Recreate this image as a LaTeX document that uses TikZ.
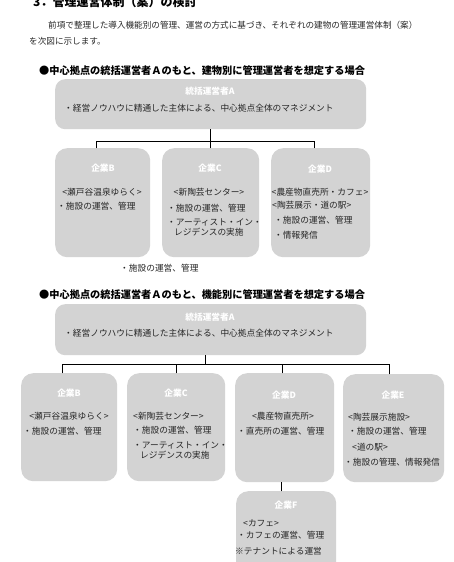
\documentclass[tikz,border=0pt]{standalone}
\usepackage{fontspec}
\setmainfont{Noto Sans CJK JP}
\usetikzlibrary{calc}
\definecolor{cbox}{HTML}{D3D3D3}
\definecolor{ctext}{HTML}{262626}
\tikzset{
  box/.style={fill=cbox, rounded corners=12pt, inner sep=0pt, anchor=north west},
  boxtitle/.style={font=\bfseries\fontsize{8.7}{10}\selectfont, text=white, inner sep=0pt},
  ln/.style={font=\fontsize{8.7}{10}\selectfont, text=ctext, inner sep=0pt, anchor=west},
  lnc/.style={ln, anchor=center},
  hdg/.style={font=\bfseries\fontsize{10.2}{12}\selectfont, inner sep=0pt, anchor=west},
  link/.style={black, line width=0.8pt},
}

\begin{document}
\begin{tikzpicture}[x=1pt, y=-1pt, line cap=rect]
  \useasboundingbox (0,0) rectangle (453,562);
  \clip (0,0) rectangle (453,562);
  % ---------- page head ----------
  \node[font=\bfseries\fontsize{12}{14}\selectfont, inner sep=0pt, anchor=base west] (ttl) at (33,6) {3．管理運営体制（案）の検討};
  \node[ln, font=\fontsize{8.6}{10}\selectfont] (par1) at (48,25) {前項で整理した導入機能別の管理、運営の方式に基づき、それぞれの建物の管理運営体制（案）};
  \node[ln, font=\fontsize{8.6}{10}\selectfont] (par2) at (29,41) {を次図に示します。};

  % ---------- (1) by building ----------
  \node[hdg] (hd1) at (39,71) {●中心拠点の統括運営者Ａのもと、建物別に管理運営者を想定する場合};
  \node[box, minimum width=311pt, minimum height=50pt, rounded corners=10pt] (a1) at (55,79) {};
  \node[boxtitle] (a1t) at (210,91) {統括運営者A};
  \node[ln] (a1l) at (64,108) {・経営ノウハウに精通した主体による、中心拠点全体のマネジメント};

  \node[box, minimum width=95pt, minimum height=109pt] (b1) at (55,148) {};
  \node[boxtitle] (b1t) at (103,168) {企業B};
  \node[lnc] (b1l1) at (102,192) {<瀬戸谷温泉ゆらく>};
  \node[ln] (b1l2) at (57,206) {・施設の運営、管理};

  \node[box, minimum width=97pt, minimum height=109pt] (c1) at (162,148) {};
  \node[boxtitle] (c1t) at (210,168) {企業C};
  \node[lnc] (c1l1) at (209,192) {<新陶芸センター>};
  \node[ln] (c1l2) at (167,208) {・施設の運営、管理};
  \node[ln] (c1l3) at (167,222) {・アーティスト・イン・};
  \node[ln] (c1l4) at (174,232) {レジデンスの実施};

  \node[box, minimum width=99pt, minimum height=109pt] (d1) at (271,148) {};
  \node[boxtitle] (d1t) at (320,169) {企業D};
  \node[lnc] (d1l1) at (320,192) {<農産物直売所・カフェ>};
  \node[ln] (d1l2) at (272,205) {<陶芸展示・道の駅>};
  \node[ln] (d1l3) at (274,220) {・施設の運営、管理};
  \node[ln] (d1l4) at (274,235) {・情報発信};

  \node[ln] (fl) at (120,268) {・施設の運営、管理};

  \draw[link] (a1.south) -- (c1.north);
  \draw[link] ([xshift=-6.5pt]b1.north) -- ++(0,-7) -| ([xshift=-6.5pt]d1.north);

  % ---------- (2) by function ----------
  \node[hdg] (hd2) at (39,295) {●中心拠点の統括運営者Ａのもと、機能別に管理運営者を想定する場合};
  \node[box, minimum width=311pt, minimum height=51pt, rounded corners=10pt] (a2) at (55,304) {};
  \node[boxtitle] (a2t) at (210,317) {統括運営者A};
  \node[ln] (a2l) at (64,333) {・経営ノウハウに精通した主体による、中心拠点全体のマネジメント};

  \node[box, minimum width=96pt, minimum height=108pt] (b2) at (21,373) {};
  \node[boxtitle] (b2t) at (69,393) {企業B};
  \node[lnc] (b2l1) at (69,416) {<瀬戸谷温泉ゆらく>};
  \node[ln] (b2l2) at (23,431) {・施設の運営、管理};

  \node[box, minimum width=98pt, minimum height=108pt] (c2) at (127,373) {};
  \node[boxtitle] (c2t) at (176,393) {企業C};
  \node[ln] (c2l1) at (133,416) {<新陶芸センター>};
  \node[ln] (c2l2) at (133,430) {・施設の運営、管理};
  \node[ln] (c2l3) at (133,445) {・アーティスト・イン・};
  \node[ln] (c2l4) at (140,455) {レジデンスの実施};

  \node[box, minimum width=99pt, minimum height=109pt] (d2) at (235,373) {};
  \node[boxtitle] (d2t) at (284,395) {企業D};
  \node[lnc] (d2l1) at (283,416) {<農産物直売所>};
  \node[ln] (d2l2) at (237,431) {・直売所の運営、管理};

  \node[box, minimum width=101pt, minimum height=108pt] (e2) at (343,374) {};
  \node[boxtitle] (e2t) at (393,395) {企業E};
  \node[ln] (e2l1) at (348,417) {<陶芸展示施設>};
  \node[ln] (e2l2) at (348,431) {・施設の運営、管理};
  \node[ln] (e2l3) at (352,447) {<道の駅>};
  \node[ln] (e2l4) at (344,462) {・施設の管理、情報発信};

  \node[box, minimum width=100pt, minimum height=90pt] (f2) at (236,491) {};
  \node[boxtitle] (f2t) at (286,505) {企業F};
  \node[ln] (f2l1) at (243,523) {<カフェ>};
  \node[ln] (f2l2) at (237,535) {・カフェの運営、管理};
  \node[ln] (f2l3) at (235,551) {※テナントによる運営};

  \draw[link] ([xshift=-5.5pt]a2.south) -- ++(0,9);
  \draw[link] ([xshift=-7pt]b2.north) -- ++(0,-9) -| ([xshift=-4.5pt]e2.north);
  \draw[link] (c2.north) -- ++(0,-9);
  \draw[link] ([xshift=-2.5pt]d2.north) -- ++(0,-9);
  \draw[link] ([xshift=-3.5pt]d2.south) -- ([xshift=-3.5pt]d2.south |- f2.north);
\end{tikzpicture}
\end{document}
